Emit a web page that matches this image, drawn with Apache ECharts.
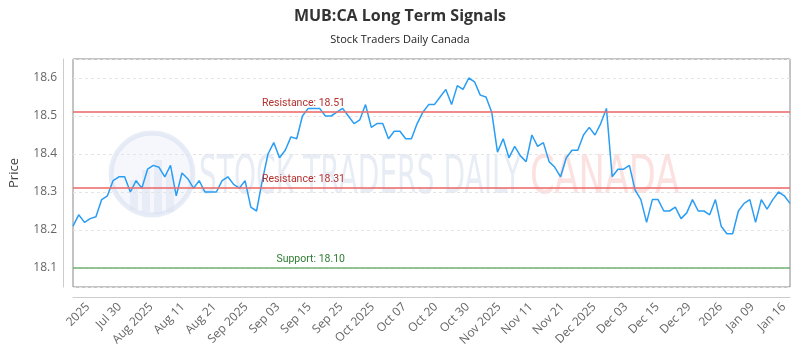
<!DOCTYPE html>
<html><head><meta charset="utf-8">
<script src="https://cdn.jsdelivr.net/npm/echarts@6/dist/echarts.min.js"></script>
<style>html,body{margin:0;padding:0;background:#fff}#c{width:800px;height:350px}</style>
</head><body><div id="c"></div>
<script>
// ---- data ----
const prices = [
  18.21, 18.24, 18.22, 18.23, 18.235, 18.28, 18.29, 18.33, 18.34, 18.34,
  18.30, 18.33, 18.31, 18.36, 18.37, 18.365, 18.34, 18.37, 18.29, 18.35,
  18.335, 18.31, 18.33, 18.30, 18.30, 18.30, 18.33, 18.34, 18.32, 18.31,
  18.33, 18.26, 18.25, 18.33, 18.40, 18.43, 18.39, 18.41, 18.445, 18.44,
  18.50, 18.52, 18.52, 18.52, 18.50, 18.50, 18.51, 18.52, 18.50, 18.48,
  18.49, 18.53, 18.47, 18.48, 18.48, 18.44, 18.46, 18.46, 18.44, 18.44,
  18.48, 18.51, 18.53, 18.53, 18.55, 18.57, 18.53, 18.58, 18.57, 18.60,
  18.59, 18.555, 18.55, 18.51, 18.405, 18.44, 18.39, 18.42, 18.395, 18.38,
  18.45, 18.42, 18.43, 18.38, 18.365, 18.34, 18.39, 18.41, 18.41, 18.45,
  18.47, 18.45, 18.48, 18.52, 18.34, 18.36, 18.36, 18.37, 18.305, 18.28,
  18.22, 18.28, 18.28, 18.25, 18.25, 18.26, 18.23, 18.245, 18.28, 18.25,
  18.25, 18.24, 18.28, 18.21, 18.19, 18.19, 18.25, 18.27, 18.28, 18.22,
  18.28, 18.255, 18.28, 18.30, 18.29, 18.27
];
const tickLabels = ['2025','Jul 30','Aug 2025','Aug 11','Aug 21','Sep 2025','Sep 03','Sep 15','Sep 25',
  'Oct 2025','Oct 07','Oct 20','Oct 30','Nov 2025','Nov 11','Nov 21','Dec 2025','Dec 03','Dec 15',
  'Dec 29','2026','Jan 09','Jan 16'];
const resistanceLevels = [18.51, 18.31];
const supportLevels = [18.10];
const yTicks = [18.1, 18.2, 18.3, 18.4, 18.5, 18.6];

const categories = prices.map((_, i) => String(i + 1));

const chart = echarts.init(document.getElementById('c'));
const markData = [
  ...resistanceLevels.map(v => ({
    yAxis: v, name: 'Resistance',
    lineStyle: { color: 'rgba(235,110,110,0.8)', width: 2, type: 'solid' },
    label: { color: '#b3302c' }
  })),
  ...supportLevels.map(v => ({
    yAxis: v, name: 'Support',
    lineStyle: { color: 'rgba(80,160,80,0.8)', width: 1.5, type: 'solid' },
    label: { color: '#2e7d32' }
  }))
];

chart.setOption({
  animation: false,
  title: {
    text: 'MUB:CA Long Term Signals',
    subtext: 'Stock Traders Daily Canada',
    left: 'center', top: 3, itemGap: 10,
    textStyle: { fontFamily: 'Open Sans', fontSize: 16, fontWeight: 'bold', color: '#333' },
    subtextStyle: { fontFamily: 'Open Sans', fontSize: 11, color: '#222' }
  },
  graphic: [
    { type: 'circle', z: -10, shape: { cx: 152, cy: 174, r: 41 },
      style: { fill: 'rgba(225,232,245,0.35)', stroke: 'rgba(215,224,240,0.6)', lineWidth: 5 } },
    { type: 'rect', z: -10, shape: { x: 130, y: 180, width: 8, height: 30 }, style: { fill: 'rgba(215,224,240,0.45)' } },
    { type: 'rect', z: -10, shape: { x: 142, y: 170, width: 8, height: 42 }, style: { fill: 'rgba(215,224,240,0.45)' } },
    { type: 'rect', z: -10, shape: { x: 154, y: 160, width: 8, height: 54 }, style: { fill: 'rgba(215,224,240,0.45)' } },
    { type: 'rect', z: -10, shape: { x: 166, y: 174, width: 8, height: 38 }, style: { fill: 'rgba(215,224,240,0.45)' } },
    { type: 'text', z: -10, x: 199, y: 152, scaleX: 0.52,
      style: { text: 'STOCK TRADERS DAILY', fontFamily: 'DejaVu Sans', fontSize: 54,
        fill: 'rgba(205,214,232,0.45)' } },
    { type: 'text', z: -10, x: 530, y: 152, scaleX: 0.65,
      style: { text: 'CANADA', fontFamily: 'DejaVu Sans', fontSize: 54,
        fill: 'rgba(250,195,195,0.5)' } }
  ],
  grid: [
    { left: 70, right: 10, top: 59, bottom: 63, show: true, borderColor: '#888', borderWidth: 1, backgroundColor: 'transparent' },
    { left: 88, right: 16, top: 59, bottom: 63, show: false }
  ],
  xAxis: [
    { type: 'category', gridIndex: 0, data: categories, boundaryGap: false, offset: 10,
      axisLine: { show: true, lineStyle: { color: '#ccc' } },
      axisTick: { show: false }, axisLabel: { show: false }, splitLine: { show: false } },
    { type: 'category', gridIndex: 1, data: tickLabels, boundaryGap: false, offset: 10,
      axisLine: { show: false }, axisTick: { show: false }, splitLine: { show: false },
      axisLabel: { interval: 0, rotate: 45, margin: 8, fontFamily: 'Open Sans', fontSize: 12, color: '#666' } }
  ],
  yAxis: [
    { type: 'value', gridIndex: 0, min: 18.05, max: 18.65, splitNumber: 6, offset: 10,
      name: 'Price', nameLocation: 'middle', nameGap: 42,
      nameTextStyle: { fontFamily: 'Open Sans', fontSize: 13, color: '#444' },
      axisLine: { show: true, lineStyle: { color: '#ccc' } },
      axisTick: { show: false },
      axisLabel: { showMinLabel: false, showMaxLabel: false, margin: 6, fontFamily: 'Open Sans', fontSize: 12, color: '#666',
        formatter: v => (yTicks.some(t => Math.abs(t - v) < 1e-6) ? v.toFixed(1) : '') },
      splitLine: { show: true, lineStyle: { color: '#e4e4e4', type: [3, 3] } } },
    { type: 'value', gridIndex: 1, show: false }
  ],
  series: [{
    type: 'line', xAxisIndex: 0, yAxisIndex: 0, data: prices,
    showSymbol: false, symbol: 'none',
    lineStyle: { color: '#2a9df4', width: 1.5 },
    markLine: {
      silent: true, symbol: 'none',
      label: {
        position: 'insideEndTop', distance: [445, 3],
        fontFamily: 'Roboto', fontSize: 10.5,
        formatter: p => p.name + ': ' + p.value.toFixed(2)
      },
      data: markData
    }
  }]
});
</script></body></html>
